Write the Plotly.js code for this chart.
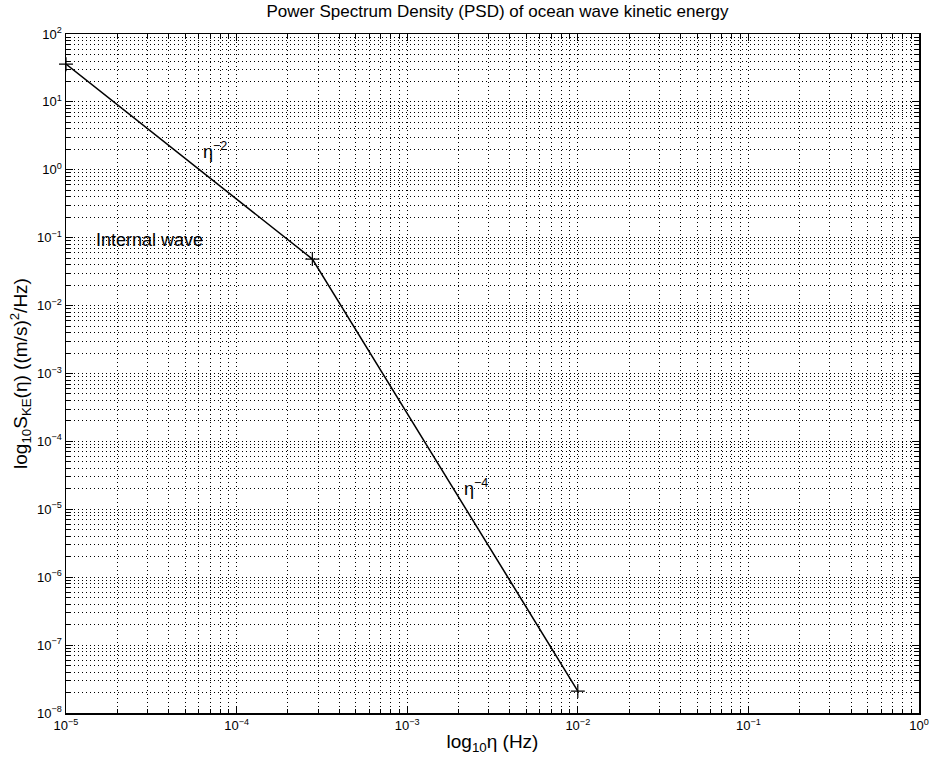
<!DOCTYPE html>
<html><head><meta charset="utf-8">
<script src="https://cdn.plot.ly/plotly-3.0.1.min.js"></script>
<style>html,body{margin:0;padding:0;background:#fff}</style>
</head><body>
<div id="chart" style="width:930px;height:761px"></div>
<script>
// Data
const freq = [1e-5, 2.78e-4, 1e-2];
const psd = [36, 0.0485, 2.1e-8];
const xTickVals = [1e-5, 1e-4, 1e-3, 1e-2, 1e-1, 1e0];
const xTickText = ['10<sup>−5</sup>','10<sup>−4</sup>','10<sup>−3</sup>','10<sup>−2</sup>','10<sup>−1</sup>','10<sup>0</sup>'];
const yTickVals = [1e-8,1e-7,1e-6,1e-5,1e-4,1e-3,1e-2,1e-1,1e0,1e1,1e2];
const yTickText = ['10<sup>−8</sup>','10<sup>−7</sup>','10<sup>−6</sup>','10<sup>−5</sup>','10<sup>−4</sup>','10<sup>−3</sup>','10<sup>−2</sup>','10<sup>−1</sup>','10<sup>0</sup>','10<sup>1</sup>','10<sup>2</sup>'];
const slopeLabels = ['η<sup>−2</sup>', 'η<sup>−4</sup>'];
const slopeX = [6.2e-5, 2.1e-3];
const slopeY = [1.9, 2.1e-5];
const regionLabel = 'Internal wave';
const regionX = 1.45e-5;
const regionY = 0.093;

const font = 'Liberation Sans, Arial, Helvetica, sans-serif';
const axisCommon = {
  type: 'log',
  showline: true, mirror: 'allticks', linecolor: '#000', linewidth: 1.5,
  ticks: 'inside', ticklen: 7, tickcolor: '#000', tickwidth: 1,
  showgrid: true, gridcolor: '#000', gridwidth: 1, griddash: '1px,3px',
  zeroline: false, ticklabeloverflow: 'allow',
  tickfont: {family: font, size: 13, color: '#000'},
  minor: {dtick: 'D1', ticks: 'inside', ticklen: 4, tickcolor: '#000', showgrid: true,
          gridcolor: '#000', gridwidth: 1, griddash: '1px,3px'}
};

const trace = {
  x: freq, y: psd, type: 'scatter', mode: 'lines+markers', cliponaxis: false,
  line: {color: '#000', width: 1.5},
  marker: {symbol: 'cross-thin-open', size: 10, color: '#000', line: {color: '#000', width: 1.2}},
  hoverinfo: 'x+y'
};

const layout = {
  width: 930, height: 761,
  margin: {l: 66, r: 11, t: 34, b: 48},
  paper_bgcolor: '#fff', plot_bgcolor: '#fff',
  showlegend: false,
  title: {text: 'Power Spectrum Density (PSD) of ocean wave kinetic energy',
          font: {family: font, size: 17, color: '#000'}, x: 0.535, xanchor: 'center', y: 0.993, yanchor: 'top'},
  xaxis: Object.assign({}, axisCommon, {
    range: [-5, 0], tickvals: xTickVals, ticktext: xTickText,
    title: {text: 'log<sub>10</sub>η (Hz)', font: {family: font, size: 19, color: '#000'}, standoff: 2}
  }),
  yaxis: Object.assign({}, axisCommon, {
    range: [-8, 2], tickvals: yTickVals, ticktext: yTickText,
    title: {text: 'log<sub>10</sub>S<sub>KE</sub>(η) ((m/s)<sup>2</sup>/Hz)', font: {family: font, size: 19, color: '#000'}, standoff: 4}
  }),
  annotations: [
    {x: Math.log10(slopeX[0]), y: Math.log10(slopeY[0]), text: slopeLabels[0], showarrow: false,
     xanchor: 'left', yanchor: 'middle', font: {family: font, size: 18, color: '#000'}},
    {x: Math.log10(slopeX[1]), y: Math.log10(slopeY[1]), text: slopeLabels[1], showarrow: false,
     xanchor: 'left', yanchor: 'middle', font: {family: font, size: 18, color: '#000'}},
    {x: Math.log10(regionX), y: Math.log10(regionY), text: regionLabel, showarrow: false,
     xanchor: 'left', yanchor: 'middle', font: {family: font, size: 18, color: '#000'}}
  ]
};

Plotly.newPlot('chart', [trace], layout, {displayModeBar: false, staticPlot: true});
</script>
</body></html>
